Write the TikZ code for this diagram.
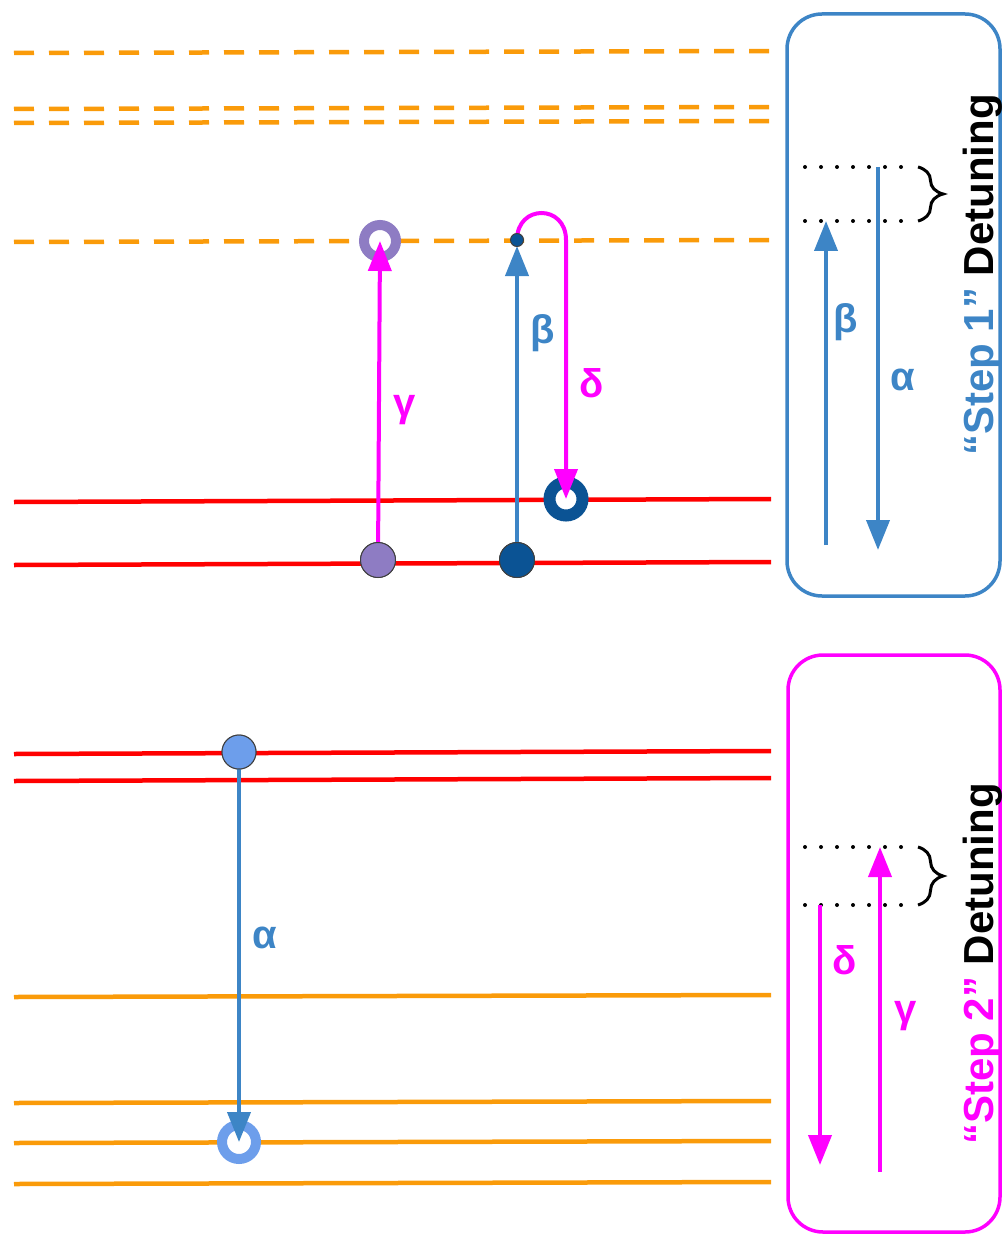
\documentclass[tikz,border=0pt]{standalone}
\usepackage{fontspec}
\setmainfont{Liberation Sans}
\usetikzlibrary{arrows.meta,decorations.pathreplacing}

\definecolor{levelorange}{RGB}{250,155,10}
\definecolor{levelred}{RGB}{255,0,0}
\definecolor{pumpmagenta}{RGB}{255,0,255}
\definecolor{stepblue}{RGB}{61,133,198}
\definecolor{atompurple}{RGB}{142,124,195}
\definecolor{atomnavy}{RGB}{11,83,148}
\definecolor{atomlight}{RGB}{109,158,235}

\begin{document}
\begin{tikzpicture}[x=1pt,y=-1pt,
  level/.style={line width=4.5pt},
  virtual/.style={line width=4.5pt, dash pattern=on 20pt off 15pt},
  ring/.style={circle, inner sep=0pt, fill=white},
  atom/.style={circle, draw=black!75, line width=1pt, inner sep=0pt},
  trans/.style={line width=4pt, -{Triangle[width=23pt,length=30pt]}},
  lbl/.style={font=\bfseries\fontsize{40}{40}\selectfont},
  steptext/.style={font=\bfseries\fontsize{42}{42}\selectfont, rotate=90, anchor=base west, inner sep=0pt},
  gridline/.style={line width=4pt, line cap=round, dash pattern=on 0pt off 16pt},
  detbrace/.style={line width=3pt, decorate, decoration={brace, amplitude=25pt}},
  stepbox/.style={rounded corners=35pt, line width=3.5pt}]

\useasboundingbox (0,0) rectangle (1003,1241);

% ---------- upper panel: virtual levels and excited levels ----------
\draw[virtual, levelorange] (14,53) -- (771,51);
\draw[virtual, levelorange] (14,109) -- (771,107);
\draw[virtual, levelorange] (14,123) -- (771,121);
\draw[virtual, levelorange] (14,242) -- (771,240);
\draw[level, levelred] (14,502) -- (771,499);
\draw[level, levelred] (14,565) -- (771,562);

% ---------- lower panel: levels ----------
\draw[level, levelred] (14,754) -- (771,751);
\draw[level, levelred] (14,781) -- (771,778);
\draw[level, levelorange] (14,997) -- (771,995);
\draw[level, levelorange] (14,1103) -- (771,1101);
\draw[level, levelorange] (14,1143) -- (771,1141);
\draw[level, levelorange] (14,1184) -- (771,1182);

% ---------- final-state rings ----------
\node[ring, draw=atompurple, line width=10pt, minimum size=32pt] (pring) at (380,241) {};
\node[ring, draw=atomnavy, line width=12pt, minimum size=33pt] (nring) at (566,499) {};
\node[ring, draw=atomlight, line width=10pt, minimum size=34pt] (lring) at (239,1142) {};

% ---------- initial-state atoms ----------
\node[atom, fill=atompurple, minimum size=35pt] (patom) at (378,560) {};
\node[atom, fill=atomnavy, minimum size=35pt] (natom) at (517,560) {};
\node[atom, fill=atomlight, minimum size=34pt] (latom) at (239,752) {};
\coordinate (vdot) at (517,240);
\coordinate (dturn) at (566,240);

% ---------- transitions ----------
\draw[trans, pumpmagenta] (patom.center) -- (pring.center);
\draw[trans, stepblue] (natom.center) -- ([yshift=-6pt]vdot);
\draw[trans, pumpmagenta] (vdot) .. controls +(0,-36) and +(0,-36) .. (dturn) -- (nring.center);
\draw[trans, stepblue] (latom.center) -- (lring.center);

% atoms on top of the transition lines
\node[atom, fill=atompurple, minimum size=35pt] at (patom) {};
\node[atom, fill=atomnavy, minimum size=35pt] at (natom) {};
\node[atom, fill=atomlight, minimum size=34pt] at (latom) {};
\node[atom, fill=atomnavy, minimum size=13pt] (vatom) at (vdot) {};

% transition labels
\node[lbl, text=pumpmagenta] (lgamma) at (405,410) {γ};
\node[lbl, text=stepblue] (lbeta) at (543,333) {β};
\node[lbl, text=pumpmagenta] (ldelta) at (592,383) {δ};
\node[lbl, text=stepblue] (lalpha) at (265,938) {α};

% ---------- step 1 box ----------
\draw[stepbox, stepblue] (787,14) rectangle (1000,596);
\coordinate (s1a) at (805,167);
\coordinate (s1b) at (805,221);
\coordinate (s1c) at (912,167);
\coordinate (s1d) at (912,221);
\draw[gridline] (s1a) -- (s1c);
\draw[gridline] (s1b) -- (s1d);
\draw[detbrace] (918,167) -- (918,221);
\coordinate (b1s) at (826,545);
\coordinate (b1e) at (826,221);
\coordinate (a1s) at (878,167);
\coordinate (a1e) at (878,550);
\draw[trans, stepblue] (b1s) -- (b1e);
\draw[trans, stepblue] (a1s) -- (a1e);
\node[lbl, text=stepblue] (s1beta) at (846,322) {β};
\node[lbl, text=stepblue] (s1alpha) at (903,380) {α};
\node[steptext] (s1text) at (993,456) {{\color{stepblue}“Step 1”} Detuning};

% ---------- step 2 box ----------
\draw[stepbox, pumpmagenta] (788,655) rectangle (1000,1232);
\coordinate (s2a) at (805,847);
\coordinate (s2b) at (805,905);
\coordinate (s2c) at (912,847);
\coordinate (s2d) at (912,905);
\draw[gridline] (s2a) -- (s2c);
\draw[gridline] (s2b) -- (s2d);
\draw[detbrace] (918,847) -- (918,905);
\coordinate (d2s) at (820,905);
\coordinate (d2e) at (820,1165);
\coordinate (g2s) at (880,1172);
\coordinate (g2e) at (880,847);
\draw[trans, pumpmagenta] (d2s) -- (d2e);
\draw[trans, pumpmagenta] (g2s) -- (g2e);
\node[lbl, text=pumpmagenta] (s2delta) at (845,960) {δ};
\node[lbl, text=pumpmagenta] (s2gamma) at (906,1016) {γ};
\node[steptext] (s2text) at (993,1145) {{\color{pumpmagenta}“Step 2”} Detuning};

\end{tikzpicture}
\end{document}
